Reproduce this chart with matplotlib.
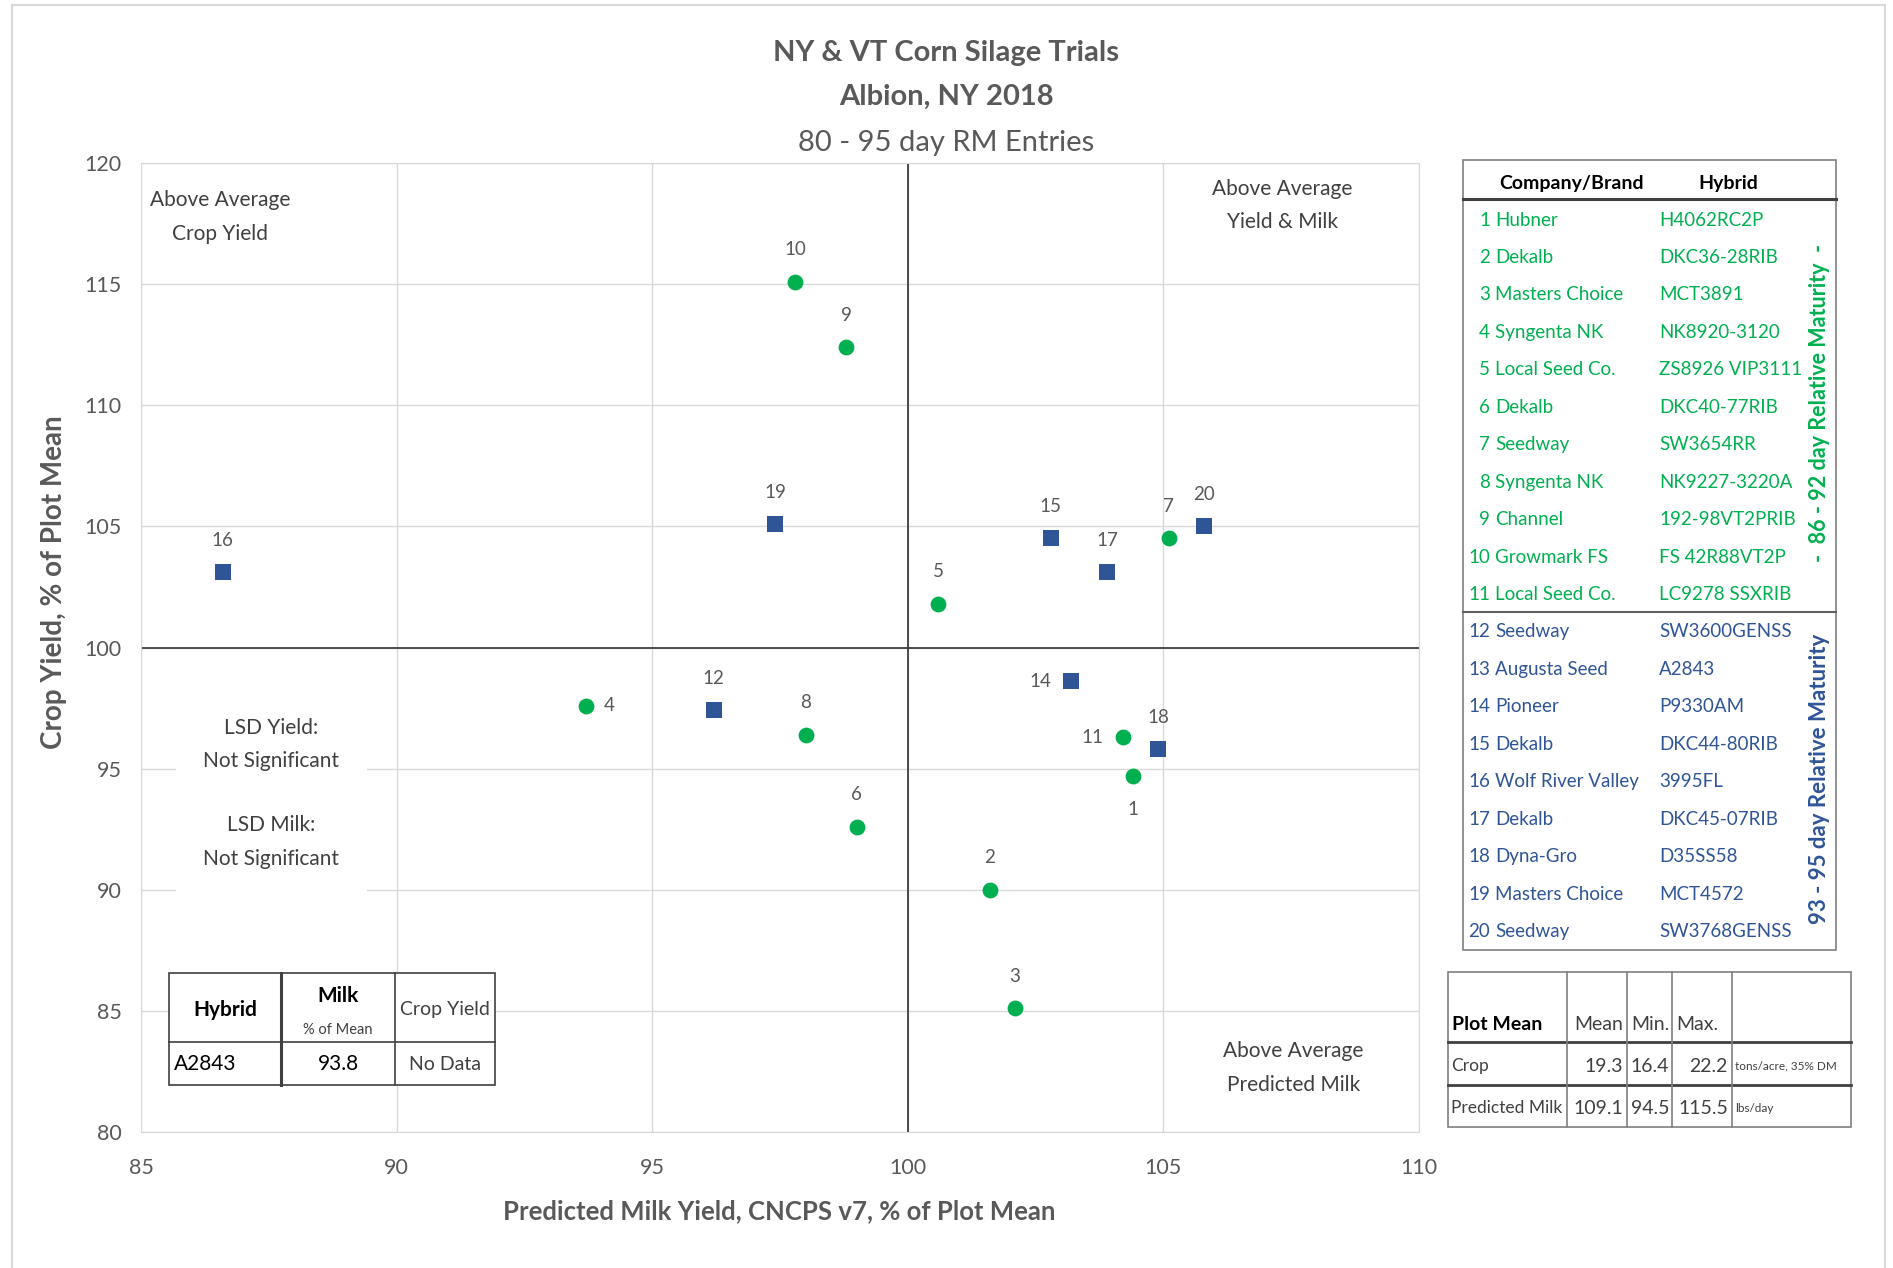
import matplotlib.pyplot as plt
from matplotlib.patches import Rectangle
from matplotlib.lines import Line2D

# ---- data ----
entry = list(range(1, 21))
company = ['Hubner', 'Dekalb', 'Masters Choice', 'Syngenta NK', 'Local Seed Co.',
           'Dekalb', 'Seedway', 'Syngenta NK', 'Channel', 'Growmark FS',
           'Local Seed Co.', 'Seedway', 'Augusta Seed', 'Pioneer', 'Dekalb',
           'Wolf River Valley', 'Dekalb', 'Dyna-Gro', 'Masters Choice', 'Seedway']
hybrid = ['H4062RC2P', 'DKC36-28RIB', 'MCT3891', 'NK8920-3120', 'ZS8926 VIP3111',
          'DKC40-77RIB', 'SW3654RR', 'NK9227-3220A', '192-98VT2PRIB', 'FS 42R88VT2P',
          'LC9278 SSXRIB', 'SW3600GENSS', 'A2843', 'P9330AM', 'DKC44-80RIB',
          '3995FL', 'DKC45-07RIB', 'D35SS58', 'MCT4572', 'SW3768GENSS']

# early group (86-92 day), entries 1-11
early_id = [1, 2, 3, 4, 5, 6, 7, 8, 9, 10, 11]
early_milk = [104.4, 101.6, 102.1, 93.7, 100.6, 99.0, 105.1, 98.0, 98.8, 97.8, 104.2]
early_crop = [94.7, 90.0, 85.1, 97.6, 101.8, 92.6, 104.5, 96.4, 112.4, 115.1, 96.3]

# late group (93-95 day), entries 12-20 (13 has no crop yield)
late_id = [12, 14, 15, 16, 17, 18, 19, 20]
late_milk = [96.2, 103.2, 102.8, 86.6, 103.9, 104.9, 97.4, 105.8]
late_crop = [97.4, 98.6, 104.5, 103.1, 103.1, 95.8, 105.1, 105.0]

# where the number label sits relative to its point
label_side = {1: 'below', 4: 'right', 11: 'left', 14: 'left'}

plot_mean_rows = ['Crop', 'Predicted Milk']
plot_mean_mean = ['19.3', '109.1']
plot_mean_min = ['16.4', '94.5']
plot_mean_max = ['22.2', '115.5']
plot_mean_unit = ['tons/acre, 35% DM', 'lbs/day']

W, H = 1893, 1268
GREEN = '#00B050'
BLUE = '#2F5597'
GREY = '#595959'
DARK = '#404040'

plt.rcParams['font.family'] = ['Lato', 'DejaVu Sans']


def fx(px):
    return px / W


def fy(py):
    return 1 - py / H


fig = plt.figure(figsize=(W / 100, H / 100), dpi=100)
fig.patches.append(Rectangle((fx(12), fy(1275)), fx(1885) - fx(12), fy(5) - fy(1275),
                             transform=fig.transFigure, fill=False, edgecolor='#D9D9D9', lw=1.5))

ax = fig.add_axes([fx(141), fy(1132), fx(1419) - fx(141), fy(163) - fy(1132)])
ax.set_xlim(85, 110)
ax.set_ylim(80, 120)
ax.set_xticks(range(85, 111, 5))
ax.set_yticks(range(80, 121, 5))
ax.grid(True, color='#D9D9D9', lw=1)
ax.set_axisbelow(True)
for s in ax.spines.values():
    s.set_color('#D9D9D9')
ax.tick_params(length=0, labelsize=15.5, labelcolor=GREY)
ax.tick_params(axis='x', pad=19)
ax.tick_params(axis='y', pad=14)
ax.axhline(100, color=DARK, lw=1.3, zorder=1)
ax.axvline(100, color=DARK, lw=1.3, zorder=1)

fig.text(fx(779), fy(1211), 'Predicted Milk Yield, CNCPS v7, % of Plot Mean', ha='center',
         va='center', fontsize=18.5, fontweight='bold', color=GREY)
fig.text(fx(54), fy(582), 'Crop Yield, % of Plot Mean', rotation=90, ha='center',
         va='center', fontsize=20, fontweight='bold', color=GREY)

ax.scatter(early_milk, early_crop, s=130, color=GREEN, marker='o', zorder=3, lw=0)
ax.scatter(late_milk, late_crop, s=125, color=BLUE, marker='s', zorder=3, lw=0)

offsets = {'above': (0, 23), 'below': (0, -24), 'left': (-22, 0), 'right': (17, 0)}
for ids, xs, ys in [(early_id, early_milk, early_crop), (late_id, late_milk, late_crop)]:
    for n, x, y in zip(ids, xs, ys):
        ax.annotate(str(n), (x, y), xytext=offsets[label_side.get(n, 'above')],
                    textcoords='offset points', ha='center', va='center',
                    fontsize=13.5, color=GREY, zorder=4)

# quadrant notes
qkw = dict(fontsize=15, color=DARK, ha='center', va='center', linespacing=1.85)
ax.text(86.54, 117.76, 'Above Average\nCrop Yield', **qkw)
ax.text(107.33, 118.25, 'Above Average\nYield & Milk', **qkw)
ax.text(107.54, 82.64, 'Above Average\nPredicted Milk', **qkw)
lsd = dict(qkw, bbox=dict(facecolor='white', edgecolor='none', pad=20))
ax.text(87.55, 95.99, 'LSD Yield:\nNot Significant', **lsd)
ax.text(87.55, 91.96, 'LSD Milk:\nNot Significant', **lsd)

# titles
fig.text(fx(946), fy(53), 'NY & VT Corn Silage Trials', ha='center', va='center',
         fontsize=21, fontweight='bold', color=GREY)
fig.text(fx(946), fy(97), 'Albion, NY 2018', ha='center', va='center',
         fontsize=21, fontweight='bold', color=GREY)
fig.text(fx(946), fy(143), '80 - 95 day RM Entries', ha='center', va='center',
         fontsize=21, color=GREY)


def hline(x0, x1, y, lw=1.2, c='#7F7F7F'):
    fig.lines.append(Line2D([fx(x0), fx(x1)], [fy(y), fy(y)], transform=fig.transFigure,
                            color=c, lw=lw))


def vline(x, y0, y1, lw=1.2, c='#7F7F7F'):
    fig.lines.append(Line2D([fx(x), fx(x)], [fy(y0), fy(y1)], transform=fig.transFigure,
                            color=c, lw=lw))


# ---- entry list on the right ----
L, R, T, B = 1463, 1836, 160, 950
fig.patches.append(Rectangle((fx(L), fy(B)), fx(R) - fx(L), fy(T) - fy(B),
                             transform=fig.transFigure, facecolor='white', edgecolor='#7F7F7F', lw=1.2))
hline(L, R, 199, lw=2.2, c=DARK)
hline(L, R, 612, lw=1.5, c='#606060')
fig.text(fx(1572), fy(183), 'Company/Brand', ha='center', va='center', fontsize=14,
         fontweight='bold', color='black')
fig.text(fx(1728), fy(183), 'Hybrid', ha='center', va='center', fontsize=14,
         fontweight='bold', color='black')
for i, (n, c, h) in enumerate(zip(entry, company, hybrid)):
    col = GREEN if n <= 11 else BLUE
    yy = fy(220 + i * 37.45)
    fig.text(fx(1490), yy, str(n), ha='right', va='center', fontsize=13.5, color=col)
    fig.text(fx(1495), yy, c, ha='left', va='center', fontsize=13.5, color=col)
    fig.text(fx(1659), yy, h, ha='left', va='center', fontsize=13.5, color=col)
fig.text(fx(1819), fy(403), '-  86 - 92 day Relative Maturity  -', rotation=90, ha='center',
         va='center', fontsize=15.5, fontweight='bold', color=GREEN)
fig.text(fx(1819), fy(779), '93 - 95 day Relative Maturity', rotation=90, ha='center',
         va='center', fontsize=16, fontweight='bold', color=BLUE)

# ---- plot mean table ----
L, R, T, B = 1448, 1851, 972, 1127
fig.patches.append(Rectangle((fx(L), fy(B)), fx(R) - fx(L), fy(T) - fy(B),
                             transform=fig.transFigure, facecolor='white', edgecolor='#7F7F7F', lw=1.2))
hline(L, R, 1042, lw=2.0, c=DARK)
hline(L, R, 1085, lw=2.0, c=DARK)
for xv in [1567, 1627, 1672, 1732]:
    vline(xv, T, B)
tkw = dict(va='center', fontsize=14, color=DARK)
fig.text(fx(1452), fy(1024), 'Plot Mean', ha='left', va='center', fontsize=14,
         fontweight='bold', color='black')
fig.text(fx(1623), fy(1024), 'Mean', ha='right', **tkw)
fig.text(fx(1631), fy(1024), 'Min.', ha='left', **tkw)
fig.text(fx(1676), fy(1024), 'Max.', ha='left', **tkw)
for i, r in enumerate(plot_mean_rows):
    yy = fy(1066 + i * 42)
    fig.text(fx(1451), yy, r, ha='left', va='center', fontsize=12.5, color=DARK)
    fig.text(fx(1623), yy, plot_mean_mean[i], ha='right', **tkw)
    fig.text(fx(1669), yy, plot_mean_min[i], ha='right', **tkw)
    fig.text(fx(1728), yy, plot_mean_max[i], ha='right', **tkw)
    fig.text(fx(1735), yy, plot_mean_unit[i], ha='left', va='center', fontsize=8.5, color=DARK)

# ---- missing entry table ----
L, R, T, B = 169, 495, 973, 1085
fig.patches.append(Rectangle((fx(L), fy(B)), fx(R) - fx(L), fy(T) - fy(B),
                             transform=fig.transFigure, facecolor='white', edgecolor=DARK, lw=1.2))
hline(L, R, 1042, lw=1.2, c=DARK)
vline(281, T, B, lw=2.2, c=DARK)
vline(395, T, B, lw=1.2, c=DARK)
fig.text(fx(225), fy(1010), 'Hybrid', ha='center', va='center', fontsize=15,
         fontweight='bold', color='black')
fig.text(fx(338), fy(996), 'Milk', ha='center', va='center', fontsize=15,
         fontweight='bold', color='black')
fig.text(fx(338), fy(1030), '% of Mean', ha='center', va='center', fontsize=10.5, color=DARK)
fig.text(fx(445), fy(1010), 'Crop Yield', ha='center', va='center', fontsize=14, color=DARK)
fig.text(fx(174), fy(1064), 'A2843', ha='left', va='center', fontsize=15, color='black')
fig.text(fx(338), fy(1064), '93.8', ha='center', va='center', fontsize=15, color='black')
fig.text(fx(445), fy(1064), 'No Data', ha='center', va='center', fontsize=14, color=DARK)

fig.savefig('out.png', dpi=100)
